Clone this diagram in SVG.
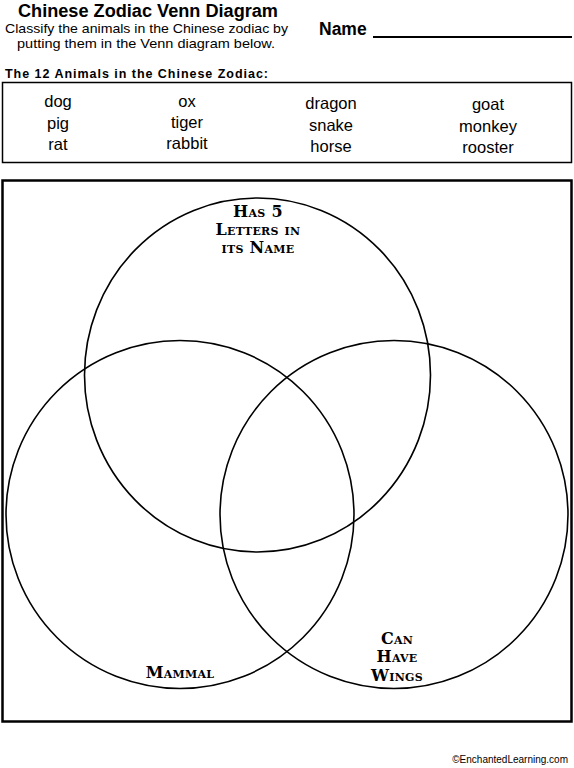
<svg xmlns="http://www.w3.org/2000/svg" width="574" height="768" viewBox="0 0 574 768">
<style>
.t{font-family:"Liberation Sans",Arial,sans-serif;fill:#000}
.b{font-weight:bold}
.an{font-family:"Liberation Sans",Arial,sans-serif;font-size:16.5px;text-anchor:middle}
.lab{font-family:"DejaVu Serif","Liberation Serif",serif;font-weight:bold;font-variant:small-caps;font-size:16px;text-anchor:middle;letter-spacing:0.3px}
.c{fill:none;stroke:#000;stroke-width:1.6}
</style>
<rect width="574" height="768" fill="#fff"/>
<g id="header">
<text class="t b" x="18" y="17" font-size="17.5" textLength="260" lengthAdjust="spacingAndGlyphs">Chinese Zodiac Venn Diagram</text>
<text class="t" x="5" y="33" font-size="13.5" textLength="283" lengthAdjust="spacingAndGlyphs">Classify the animals in the Chinese zodiac by</text>
<text class="t" x="17" y="48" font-size="13.5" textLength="258" lengthAdjust="spacingAndGlyphs">putting them in the Venn diagram below.</text>
<text class="t b" x="319" y="35" font-size="17.5">Name</text>
<line x1="373" y1="37" x2="572" y2="37" stroke="#000" stroke-width="2"/>
</g>
<g id="animals">
<text class="t b" x="5" y="78" font-size="12.5" textLength="263" lengthAdjust="spacing">The 12 Animals in the Chinese Zodiac:</text>
<rect x="2.5" y="82.5" width="569" height="80" fill="none" stroke="#000" stroke-width="1.5"/>
<text class="an" x="58" y="107">dog</text>
<text class="an" x="58" y="129">pig</text>
<text class="an" x="58" y="150">rat</text>
<text class="an" x="187" y="107">ox</text>
<text class="an" x="187" y="128">tiger</text>
<text class="an" x="187" y="149">rabbit</text>
<text class="an" x="331" y="109">dragon</text>
<text class="an" x="331" y="131">snake</text>
<text class="an" x="331" y="152">horse</text>
<text class="an" x="488" y="110">goat</text>
<text class="an" x="488" y="132">monkey</text>
<text class="an" x="488" y="153">rooster</text>
</g>
<g id="frame">
<rect x="2.5" y="180.5" width="569" height="541" fill="none" stroke="#000" stroke-width="2.5"/>
</g>
<g id="connectors"></g>
<g id="set-letters">
<ellipse class="c" cx="257.5" cy="375" rx="173" ry="177"/>
<text class="lab" x="258" y="217">Has 5</text>
<text class="lab" x="258" y="235">Letters in</text>
<text class="lab" x="258" y="253">its Name</text>
</g>
<g id="set-mammal">
<circle class="c" cx="180" cy="514.5" r="174"/>
<text class="lab" x="180" y="678">Mammal</text>
</g>
<g id="set-wings">
<circle class="c" cx="394" cy="514.5" r="174"/>
<text class="lab" x="397" y="644">Can</text>
<text class="lab" x="397" y="662">Have</text>
<text class="lab" x="397" y="681">Wings</text>
</g>
<text class="t" x="568" y="763" font-size="10" text-anchor="end">©EnchantedLearning.com</text>
</svg>
